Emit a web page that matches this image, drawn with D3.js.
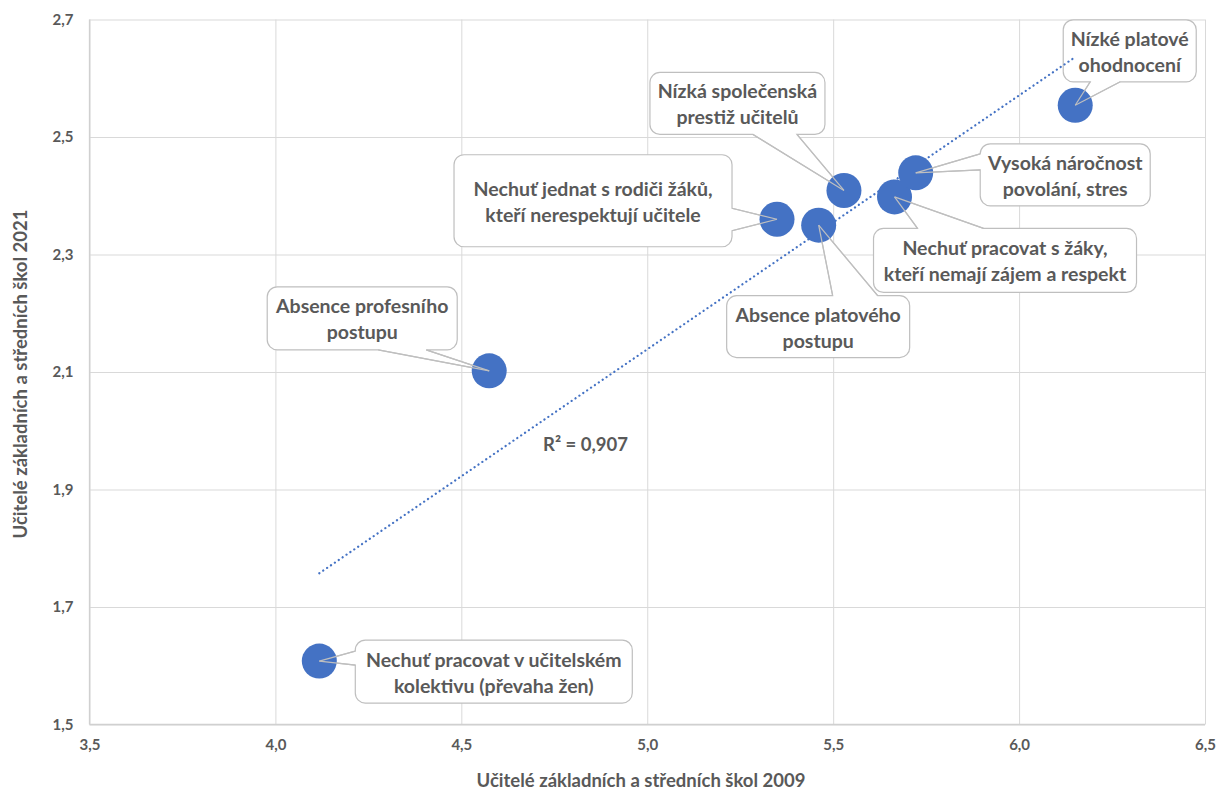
<!DOCTYPE html>
<html>
<head>
<meta charset="utf-8">
<script src="https://cdn.jsdelivr.net/npm/d3@7"></script>
<style>
  html, body { margin: 0; padding: 0; background: #ffffff; }
  svg { display: block; }
  text { font-family: Lato, "Noto Sans", sans-serif; font-weight: bold; fill: #595959; }
</style>
</head>
<body>
<svg id="chart" width="1218" height="792"></svg>
<script>
// ---- Data ----
const categories = [
  "Nechuť pracovat v učitelském\nkolektivu (převaha žen)",
  "Absence profesního\npostupu",
  "Nechuť jednat s rodiči žáků,\nkteří nerespektují učitele",
  "Absence platového\npostupu",
  "Nízká společenská\nprestiž učitelů",
  "Nechuť pracovat s žáky,\nkteří nemají zájem a respekt",
  "Vysoká náročnost\npovolání, stres",
  "Nízké platové\nohodnocení"
];
const x2009 = [4.118, 4.575, 5.349, 5.461, 5.529, 5.665, 5.722, 6.151];
const y2021 = [1.608, 2.102, 2.360, 2.350, 2.409, 2.398, 2.439, 2.554];
const xTickValues = [3.5, 4.0, 4.5, 5.0, 5.5, 6.0, 6.5];
const xTickLabels = ["3,5", "4,0", "4,5", "5,0", "5,5", "6,0", "6,5"];
const yTickValues = [1.5, 1.7, 1.9, 2.1, 2.3, 2.5, 2.7];
const yTickLabels = ["1,5", "1,7", "1,9", "2,1", "2,3", "2,5", "2,7"];
const xTitle = "Učitelé základních a středních škol 2009";
const yTitle = "Učitelé základních a středních škol 2021";
const rSquaredLabel = "R² = 0,907";

// ---- Callout layout (pixel offsets from each point) ----
const calloutLayout = [
  {dx: 36,   dy: -21,   w: 277, h: 63, side: "left",   b1: 11,  b2: 25},
  {dx: -222, dy: -84,   w: 190, h: 63, side: "bottom", b1: 111, b2: 159},
  {dx: -323, dy: -64.5, w: 278, h: 92, side: "right",  b1: 53.5,b2: 76},
  {dx: -92,  dy: 70.5,  w: 183, h: 62, side: "top",    b1: 106, b2: 151},
  {dx: -194, dy: -118,  w: 175, h: 62, side: "bottom", b1: 103, b2: 147},
  {dx: -21,  dy: 31.5,  w: 263, h: 64, side: "top",    b1: 44,  b2: 110},
  {dx: 64.5, dy: -29,   w: 170, h: 62, side: "left",   b1: 10,  b2: 26},
  {dx: -12,  dy: -85.5, w: 133, h: 62, side: "bottom", b1: 27,  b2: 57}
];

const points = categories.map((c, i) => ({label: c, x: x2009[i], y: y2021[i], lay: calloutLayout[i]}));

const svg = d3.select("#chart");
const plot = {left: 89.5, right: 1205, top: 19.5, bottom: 724.5};
const x = d3.scaleLinear().domain([3.5, 6.5]).range([plot.left, plot.right]);
const y = d3.scaleLinear().domain([1.5, 2.7]).range([plot.bottom, plot.top]);

const gridColor = "#d9d9d9";
const blue = "#4472C4";
const calloutStroke = "#bfbfbf";

// Gridlines via axes
const xAxis = d3.axisBottom(x).tickValues(xTickValues).tickFormat((d, i) => xTickLabels[i])
  .tickSize(-(plot.bottom - plot.top)).tickPadding(15);
const gx = svg.append("g").attr("transform", `translate(0,${plot.bottom})`).call(xAxis);
gx.select(".domain").remove();
gx.selectAll(".tick line").attr("stroke", gridColor).attr("stroke-width", 1);
gx.selectAll(".tick text").style("font-size", "15px").attr("fill", "#595959");

const yAxis = d3.axisLeft(y).tickValues(yTickValues).tickFormat((d, i) => yTickLabels[i])
  .tickSize(-(plot.right - plot.left)).tickPadding(16);
const gy = svg.append("g").attr("transform", `translate(${plot.left},0)`).call(yAxis);
gy.select(".domain").remove();
gy.selectAll(".tick line").attr("stroke", gridColor).attr("stroke-width", 1);
gy.selectAll(".tick text").style("font-size", "15px").attr("fill", "#595959");

// Axis lines
svg.append("line").attr("x1", plot.left).attr("x2", plot.right).attr("y1", plot.bottom).attr("y2", plot.bottom)
  .attr("stroke", "#d0d0d0").attr("stroke-width", 1.3);
svg.append("line").attr("x1", plot.left).attr("x2", plot.left).attr("y1", plot.top).attr("y2", plot.bottom)
  .attr("stroke", "#d0d0d0").attr("stroke-width", 1.3);

// Axis titles
svg.append("text").attr("x", 641).attr("y", 787).attr("text-anchor", "middle")
  .style("font-size", "18.5px").text(xTitle);
svg.append("text").attr("transform", "translate(27,374) rotate(-90)").attr("text-anchor", "middle")
  .style("font-size", "18.5px").text(yTitle);

// Callout geometry
function calloutGeom(p) {
  const px = x(p.x), py = y(p.y), L = p.lay;
  const x0 = px + L.dx, y0 = py + L.dy, x1 = x0 + L.w, y1 = y0 + L.h;
  let a, b;
  if (L.side === "top")    { a = [x0 + L.b1, y0]; b = [x0 + L.b2, y0]; }
  if (L.side === "bottom") { a = [x0 + L.b1, y1]; b = [x0 + L.b2, y1]; }
  if (L.side === "left")   { a = [x0, y0 + L.b1]; b = [x0, y0 + L.b2]; }
  if (L.side === "right")  { a = [x1, y0 + L.b1]; b = [x1, y0 + L.b2]; }
  return {px, py, x0, y0, x1, y1, a, b, side: L.side};
}
function calloutPath(g) {
  const r = 10, {x0, y0, x1, y1, px, py, a, b, side} = g;
  let d = `M${x0 + r},${y0}`;
  if (side === "top") d += `L${a[0]},${y0}L${px},${py}L${b[0]},${y0}`;
  d += `L${x1 - r},${y0}A${r},${r} 0 0 1 ${x1},${y0 + r}`;
  if (side === "right") d += `L${x1},${a[1]}L${px},${py}L${x1},${b[1]}`;
  d += `L${x1},${y1 - r}A${r},${r} 0 0 1 ${x1 - r},${y1}`;
  if (side === "bottom") d += `L${b[0]},${y1}L${px},${py}L${a[0]},${y1}`;
  d += `L${x0 + r},${y1}A${r},${r} 0 0 1 ${x0},${y1 - r}`;
  if (side === "left") d += `L${x0},${b[1]}L${px},${py}L${x0},${a[1]}`;
  d += `L${x0},${y0 + r}A${r},${r} 0 0 1 ${x0 + r},${y0}Z`;
  return d;
}
const geoms = points.map(calloutGeom);

// Callout boxes
const cg = svg.append("g");
cg.selectAll("path").data(geoms).join("path")
  .attr("d", calloutPath)
  .attr("fill", "#ffffff").attr("stroke", calloutStroke).attr("stroke-width", 1.2);
const tg = svg.append("g");
points.forEach((p, i) => {
  const g = geoms[i];
  const cx = (g.x0 + g.x1) / 2, cy = (g.y0 + g.y1) / 2;
  const lines = p.label.split("\n");
  const t = tg.append("text").attr("text-anchor", "middle").style("font-size", "19.5px");
  lines.forEach((ln, k) => {
    t.append("tspan").attr("x", cx).attr("y", cy - 5 + k * 26).text(ln);
  });
});

// Trendline (least squares)
const mx = d3.mean(x2009), my = d3.mean(y2021);
const slope = d3.sum(x2009.map((v, i) => (v - mx) * (y2021[i] - my))) / d3.sum(x2009.map(v => (v - mx) * (v - mx)));
const intercept = my - slope * mx;
const [xmin, xmax] = d3.extent(x2009);
svg.append("line")
  .attr("x1", x(xmin)).attr("y1", y(intercept + slope * xmin))
  .attr("x2", x(xmax)).attr("y2", y(intercept + slope * xmax))
  .attr("stroke", blue).attr("stroke-width", 2.2)
  .attr("stroke-dasharray", "0.1 4.6").attr("stroke-linecap", "round");

svg.append("text").attr("x", 543).attr("y", 451).style("font-size", "18.5px").text(rSquaredLabel);

// Markers
svg.append("g").selectAll("circle").data(points).join("circle")
  .attr("cx", d => x(d.x)).attr("cy", d => y(d.y)).attr("r", 17.5)
  .attr("fill", blue);

// Leader lines over markers
const lg = svg.append("g");
geoms.forEach(g => {
  [g.a, g.b].forEach(pt => {
    lg.append("line").attr("x1", pt[0]).attr("y1", pt[1]).attr("x2", g.px).attr("y2", g.py)
      .attr("stroke", calloutStroke).attr("stroke-width", 1.2);
  });
});
</script>
</body>
</html>
